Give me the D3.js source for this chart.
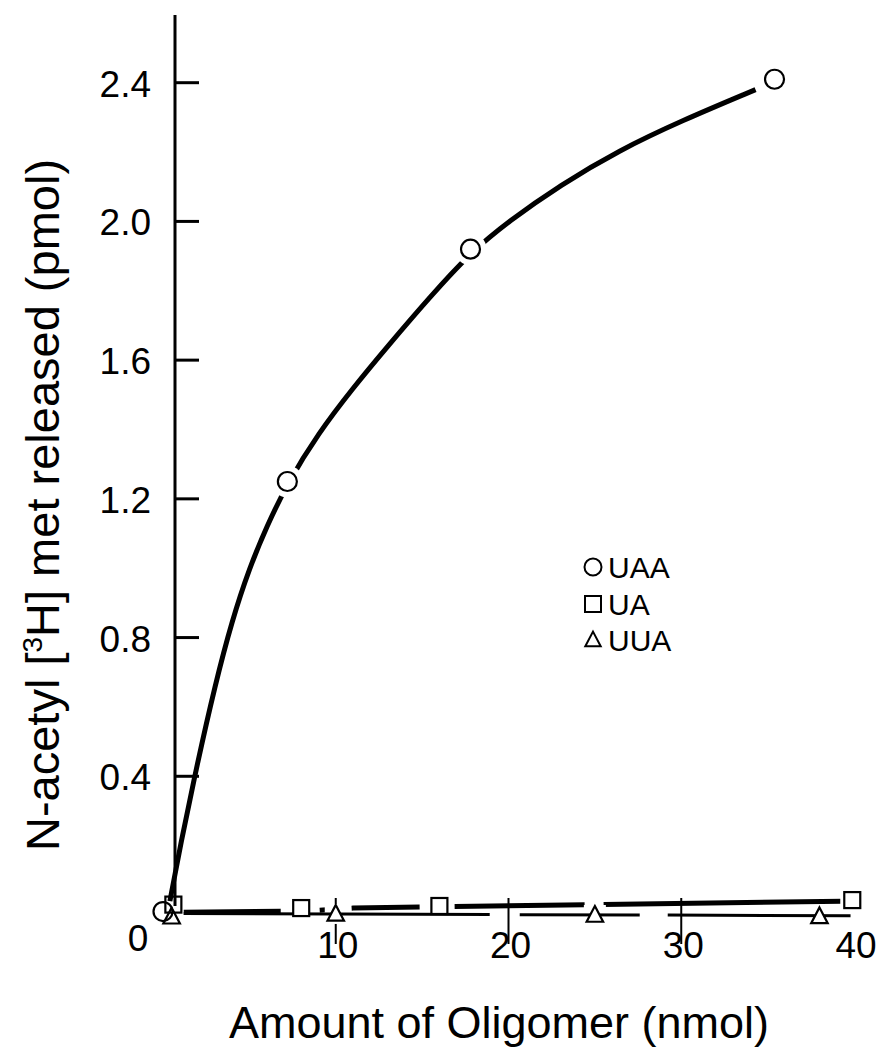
<!DOCTYPE html>
<html><head><meta charset="utf-8">
<script src="https://cdn.jsdelivr.net/npm/d3@7"></script>
<style>body{margin:0;background:#fff}svg{display:block}text{font-family:"Liberation Sans",Arial,Helvetica,sans-serif;fill:#000}</style>
</head><body><svg id="c" width="877" height="1054"></svg>
<script>
// ---- data ----
const xTicks = [10, 20, 30, 40];
const xTickLabels = ["10", "20", "30", "40"];
const yTicks = [0.4, 0.8, 1.2, 1.6, 2.0, 2.4];
const yTickLabels = ["0.4", "0.8", "1.2", "1.6", "2.0", "2.4"];
const uaaX = [0, 7.2, 17.8, 35.4];
const uaaY = [0.01, 1.25, 1.92, 2.41];
const uaX = [0.6, 8, 16, 39.9];
const uaY = [0.03, 0.02, 0.026, 0.043];
const uuaX = [0.5, 10, 25, 38];
const uuaY = [-0.005, 0.003, 0.0, -0.004];
// hand-drawn fitted curve
const uaaCurveX = [0.4, 1, 2, 3, 4, 5, 6, 7.2, 9, 11, 13, 15.5, 17.8, 20, 23, 26.4, 30, 34.3];
const uaaCurveY = [0.04, 0.2, 0.44, 0.66, 0.85, 1.0, 1.12, 1.245, 1.39, 1.52, 1.64, 1.785, 1.91, 2.0, 2.105, 2.205, 2.29, 2.38];
const uaLineX = [1.2, 8.5, 11, 39.3];
const uaLineY = [0.008, 0.012, 0.02, 0.04];
const uuaLineX = [1.2, 39.8];
const uuaLineY = [0.004, -0.002];
const legendNames = ["UAA", "UA", "UUA"];
const xTitle = "Amount of Oligomer (nmol)";

const svg = d3.select("#c");
const x = d3.scaleLinear().domain([0, 40]).range([163, 854]);
const y = d3.scaleLinear().domain([0, 2.4]).range([915, 82.7]);

// y axis line
svg.append("line").attr("x1", 175).attr("x2", 175).attr("y1", 15).attr("y2", 906)
  .attr("stroke", "#000").attr("stroke-width", 3);
// y ticks
svg.selectAll(".yt").data(yTicks).enter().append("line")
  .attr("x1", 175).attr("x2", 199).attr("y1", d => y(d)).attr("y2", d => y(d))
  .attr("stroke", "#000").attr("stroke-width", 3);
svg.selectAll(".yl").data(yTicks).enter().append("text")
  .attr("x", 151).attr("y", d => y(d) + 14).attr("text-anchor", "end")
  .attr("font-size", 37).text((d, i) => yTickLabels[i]);
// x ticks (no baseline)
svg.selectAll(".xt").data(xTicks.slice(0, 3)).enter().append("line")
  .attr("x1", d => x(d)).attr("x2", d => x(d)).attr("y1", 898).attr("y2", 944)
  .attr("stroke", "#000").attr("stroke-width", 2);
svg.selectAll(".xl").data(xTicks).enter().append("text")
  .attr("x", d => x(d) + 2).attr("y", 958).attr("text-anchor", "middle")
  .attr("font-size", 37).text((d, i) => xTickLabels[i]);
svg.append("text").attr("x", x(0) - 25).attr("y", 951).attr("text-anchor", "middle")
  .attr("font-size", 37).text("0");

// axis titles
svg.append("text").attr("x", 499).attr("y", 1038).attr("text-anchor", "middle")
  .attr("font-size", 45).text(xTitle);
const yt = svg.append("text").attr("transform", "translate(59,505) rotate(-90)")
  .attr("text-anchor", "middle").attr("font-size", 47);
yt.append("tspan").text("N-acetyl [");
yt.append("tspan").attr("font-size", 28).attr("dy", -17).text("3");
yt.append("tspan").attr("dy", 17).text("H] met released (pmol)");

// lines
const uaaCurve = uaaCurveX.map((v, i) => [v, uaaCurveY[i]]);
svg.append("path").attr("d", d3.line().x(d => x(d[0])).y(d => y(d[1])).curve(d3.curveBasis)(uaaCurve))
  .attr("fill", "none").attr("stroke", "#000").attr("stroke-width", 5).attr("stroke-linecap", "butt");
const uaLine = uaLineX.map((v, i) => [v, uaLineY[i]]);
svg.append("path").attr("d", d3.line().x(d => x(d[0])).y(d => y(d[1]))(uaLine))
  .attr("fill", "none").attr("stroke", "#000").attr("stroke-width", 5)
  .attr("stroke-dasharray", "97,39,14,18,68,35,130,19,240,1000");
const uuaLine = uuaLineX.map((v, i) => [v, uuaLineY[i]]);

// white halos to create gaps around markers
svg.selectAll(".halo").data(uaaX.slice(1)).enter().append("circle")
  .attr("cx", d => x(d)).attr("cy", (d, i) => y(uaaY[i + 1])).attr("r", 16).attr("fill", "#fff");
svg.selectAll(".halo3").data(uaX.slice(1)).enter().append("rect")
  .attr("x", d => x(d) - 12).attr("y", (d, i) => y(uaY[i + 1]) - 10).attr("width", 24).attr("height", 20)
  .attr("fill", "#fff");
svg.selectAll(".halo2").data(uuaX.slice(1)).enter().append("rect")
  .attr("x", d => x(d) - 11).attr("y", (d, i) => y(uuaY[i + 1]) - 10).attr("width", 22).attr("height", 20)
  .attr("fill", "#fff");
svg.append("path").attr("d", d3.line().x(d => x(d[0])).y(d => y(d[1]))(uuaLine))
  .attr("fill", "none").attr("stroke", "#000").attr("stroke-width", 3)
  .attr("stroke-dasharray", "150,6,150,30,120,28,200,30,60");

// markers
const tri = s => `M0,${-s * 0.6}L${s * 0.55},${s * 0.45}L${-s * 0.55},${s * 0.45}Z`;
svg.selectAll(".uaa").data(uaaX).enter().append("circle")
  .attr("cx", d => x(d)).attr("cy", (d, i) => y(uaaY[i])).attr("r", 9.5)
  .attr("fill", "none").attr("stroke", "#000").attr("stroke-width", 2.2);
svg.selectAll(".ua").data(uaX).enter().append("rect")
  .attr("x", d => x(d) - 8).attr("y", (d, i) => y(uaY[i]) - 8).attr("width", 16).attr("height", 16)
  .attr("fill", "#fff").attr("fill-opacity", (d, i) => i === 0 ? 0 : 1)
  .attr("stroke", "#000").attr("stroke-width", 2.2);
svg.selectAll(".uua").data(uuaX).enter().append("path")
  .attr("transform", (d, i) => `translate(${x(d)},${y(uuaY[i])})`).attr("d", tri(15))
  .attr("fill", "#fff").attr("fill-opacity", (d, i) => i === 0 ? 0 : 1)
  .attr("stroke", "#000").attr("stroke-width", 2.2);

// legend
const lg = svg.append("g").attr("transform", "translate(593,567)");
lg.append("circle").attr("cx", 0).attr("cy", 0).attr("r", 8.5).attr("fill", "none").attr("stroke", "#000").attr("stroke-width", 2);
lg.append("rect").attr("x", -8).attr("y", 29).attr("width", 16).attr("height", 16).attr("fill", "none").attr("stroke", "#000").attr("stroke-width", 2);
lg.append("path").attr("transform", "translate(0,73)").attr("d", tri(14)).attr("fill", "none").attr("stroke", "#000").attr("stroke-width", 2);
lg.selectAll("text").data(legendNames).enter().append("text")
  .attr("x", 15).attr("y", (d, i) => 11 + i * 36.5).attr("font-size", 30).text(d => d);
</script></body></html>
